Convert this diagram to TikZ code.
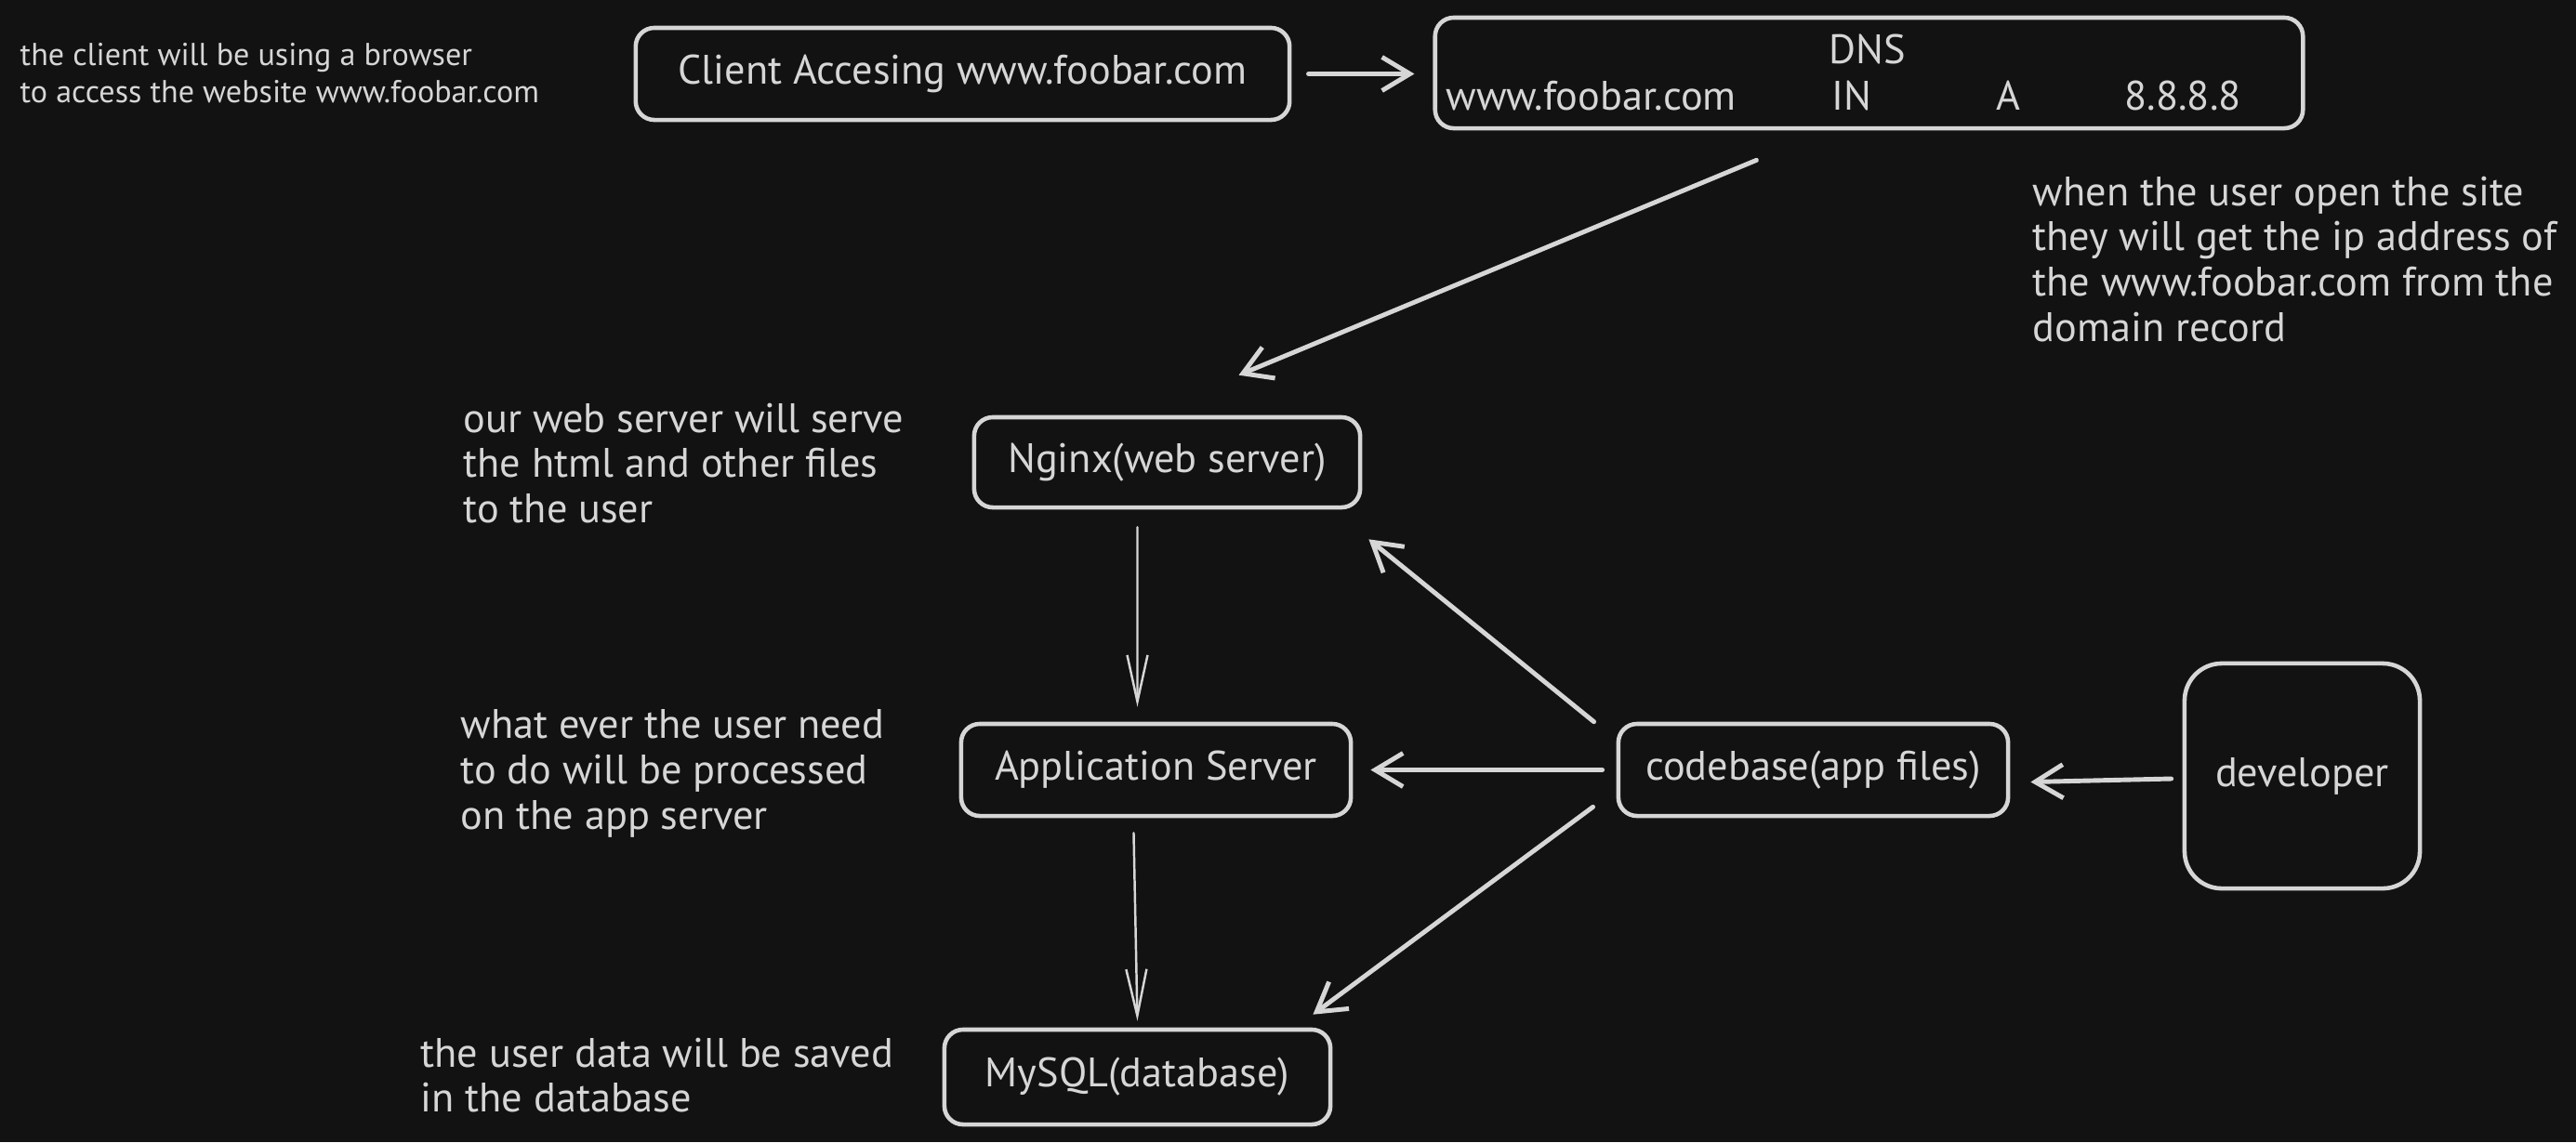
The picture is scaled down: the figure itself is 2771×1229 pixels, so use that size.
\documentclass[tikz,border=0pt]{standalone}
\usepackage{fontspec}
\setmainfont{PT Sans}
\usetikzlibrary{arrows.meta}
\definecolor{bg}{HTML}{121212}
\definecolor{fg}{HTML}{D6D6D6}
\newcommand{\boxfont}{\fontsize{12.6pt}{13.9pt}\selectfont}
\newcommand{\smallnotefont}{\fontsize{9.7pt}{11.3pt}\selectfont}
\tikzstyle{block} = [rectangle, draw=fg, line width=1.3pt, rounded corners=0.2cm,
    text=fg, font=\boxfont, inner sep=0pt]
\tikzstyle{note} = [anchor=north west, align=left, text=fg, font=\boxfont, inner sep=0pt]
\tikzstyle{record} = [anchor=west, text=fg, font=\boxfont, inner sep=0pt]
\tikzstyle{link} = [draw=fg, line width=1.4pt, line cap=round,
    -{Straight Barb[length=0.3cm, width=0.36cm]}]
\tikzstyle{thinlink} = [draw=fg, line width=0.7pt, line cap=round,
    -{Straight Barb[length=0.5cm, width=0.22cm]}]

\begin{document}
\begin{tikzpicture}[x=0.01cm, y=-0.01cm]
	% background
	\fill[bg] (0,0) rectangle (2771,1229);
	\useasboundingbox (0,0) rectangle (2771,1229);

	% Place nodes
	\node [block, minimum width=7.03cm, minimum height=0.99cm] (client) at (1035.5,79.5) {Client Accesing www.foobar.com};
	\node [block, minimum width=9.33cm, minimum height=1.19cm] (dns) at (2010.5,78.5) {};
	\node [block, minimum width=4.15cm, minimum height=0.97cm] (nginx) at (1255.5,497.5) {Nginx(web server)};
	\node [block, minimum width=4.19cm, minimum height=0.99cm] (app) at (1243.5,828.5) {Application Server};
	\node [block, minimum width=4.19cm, minimum height=0.99cm] (codebase) at (1950.5,828.5) {codebase(app files)};
	\node [block, minimum width=2.53cm, minimum height=2.42cm, rounded corners=0.4cm] (developer) at (2476.5,835) {developer};
	\node [block, minimum width=4.15cm, minimum height=1.02cm] (mysql) at (1223.5,1159) {MySQL(database)};

	% dns record
	\node [text=fg, font=\boxfont] (dnstitle) at (2009,53) {DNS};
	\node [record] (dnsname) at (1555,103) {www.foobar.com};
	\node [record] (dnsclass) at (1970,103) {IN};
	\node [record] (dnstype) at (2147,103) {A};
	\node [record] (dnsip) at (2285,103) {8.8.8.8};

	% notes
	\node [note, font=\smallnotefont] (clientnote) at (21,46) {the client will be using a browser\\to access the website www.foobar.com};
	\node [note] (dnsnote) at (2186,189) {when the user open the site\\they will get the ip address of\\the www.foobar.com from the\\domain record};
	\node [note] (nginxnote) at (498,433) {our web server will serve\\the html and other files\\to the user};
	\node [note] (appnote) at (495,763) {what ever the user need\\to do will be processed\\on the app server};
	\node [note] (mysqlnote) at (452,1116) {the user data will be saved\\in the database};

	% connectors
	\draw [link, shorten <=0.18cm, shorten >=0.2cm] (client.east) -- (client.east -| dns.west);
	\draw [link] ([xshift=-1.21cm,yshift=-0.32cm]dns.south) -- ([xshift=0.77cm,yshift=0.43cm]nginx.north);
	\draw [thinlink] ([xshift=-0.32cm,yshift=-0.19cm]nginx.south) -- ([xshift=-0.2cm,yshift=0.16cm]app.north);
	\draw [thinlink] ([xshift=-0.24cm,yshift=-0.16cm]app.south) -- ([yshift=0.07cm]mysql.north);
	\draw [link, shorten <=0.15cm, shorten >=0.19cm] (codebase.west) -- (app.east);
	\draw [link] ([xshift=-0.24cm]codebase.north west) -- ([xshift=0.07cm,yshift=-0.32cm]nginx.south east);
	\draw [link] ([xshift=-0.25cm,yshift=0.12cm]codebase.south west) -- ([xshift=-0.21cm,yshift=0.14cm]mysql.north east);
	\draw [link] ([xshift=-0.12cm,yshift=-0.03cm]developer.west) -- ([xshift=0.22cm,yshift=-0.13cm]codebase.east);

\end{tikzpicture}
\end{document}
